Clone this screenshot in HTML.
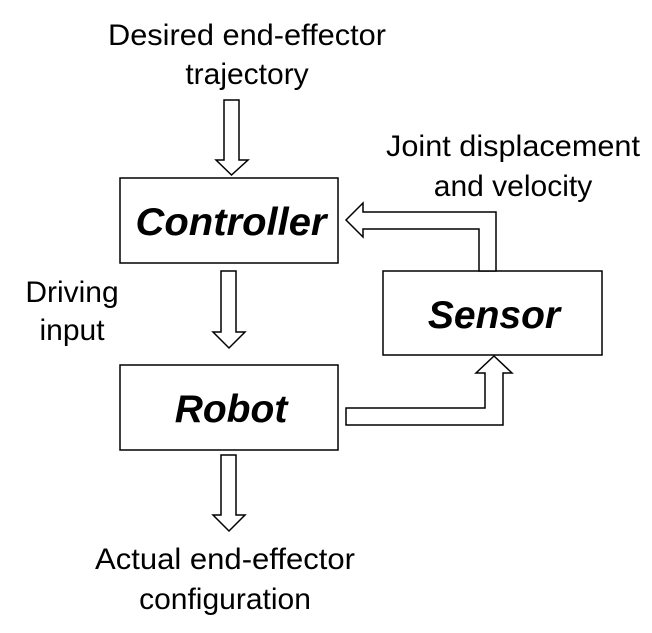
<!DOCTYPE html>
<html><head><style>
body{margin:0;background:#fff;}
</style></head><body>
<svg width="652" height="633" viewBox="0 0 652 633" xmlns="http://www.w3.org/2000/svg" style="display:block">
<g fill="#fff" stroke="#000" stroke-width="1.5">
<rect x="120" y="178" width="218" height="85"/>
<rect x="120" y="365" width="218" height="85"/>
<rect x="383" y="271" width="219" height="84"/>
<polygon points="224,100 239,100 239,160 248,160 231.5,175 216,160 224,160"/>
<polygon points="221,271 236,271 236,332 245,332 229,348 213,332 221,332"/>
<polygon points="221,455 236,455 236,515 245,515 229,531 213,515 221,515"/>
<polygon points="479,271 479,229 363,229 363,237 346,220 363,203 363,212 496,212 496,271"/>
<polygon points="346,408 485,408 485,373 476,373 494,356 512,373 503,373 503,425 346,425"/>
</g>
<g font-family="Liberation Sans, sans-serif" font-size="30" fill="#000" text-anchor="middle">
<text x="247" y="45" textLength="278" lengthAdjust="spacingAndGlyphs">Desired end-effector</text>
<text x="247" y="84">trajectory</text>
<text x="513" y="156" textLength="254" lengthAdjust="spacingAndGlyphs">Joint displacement</text>
<text x="513" y="196">and velocity</text>
<text x="72" y="302">Driving</text>
<text x="72" y="340">input</text>
<text x="225" y="569" textLength="260" lengthAdjust="spacingAndGlyphs">Actual end-effector</text>
<text x="225" y="609">configuration</text>
</g>
<g font-family="Liberation Sans, sans-serif" font-size="39" font-weight="bold" font-style="italic" text-anchor="middle">
<text x="231" y="235" textLength="191" lengthAdjust="spacingAndGlyphs">Controller</text>
<text x="231" y="422">Robot</text>
<text x="494" y="328">Sensor</text>
</g>
</svg>
</body></html>
